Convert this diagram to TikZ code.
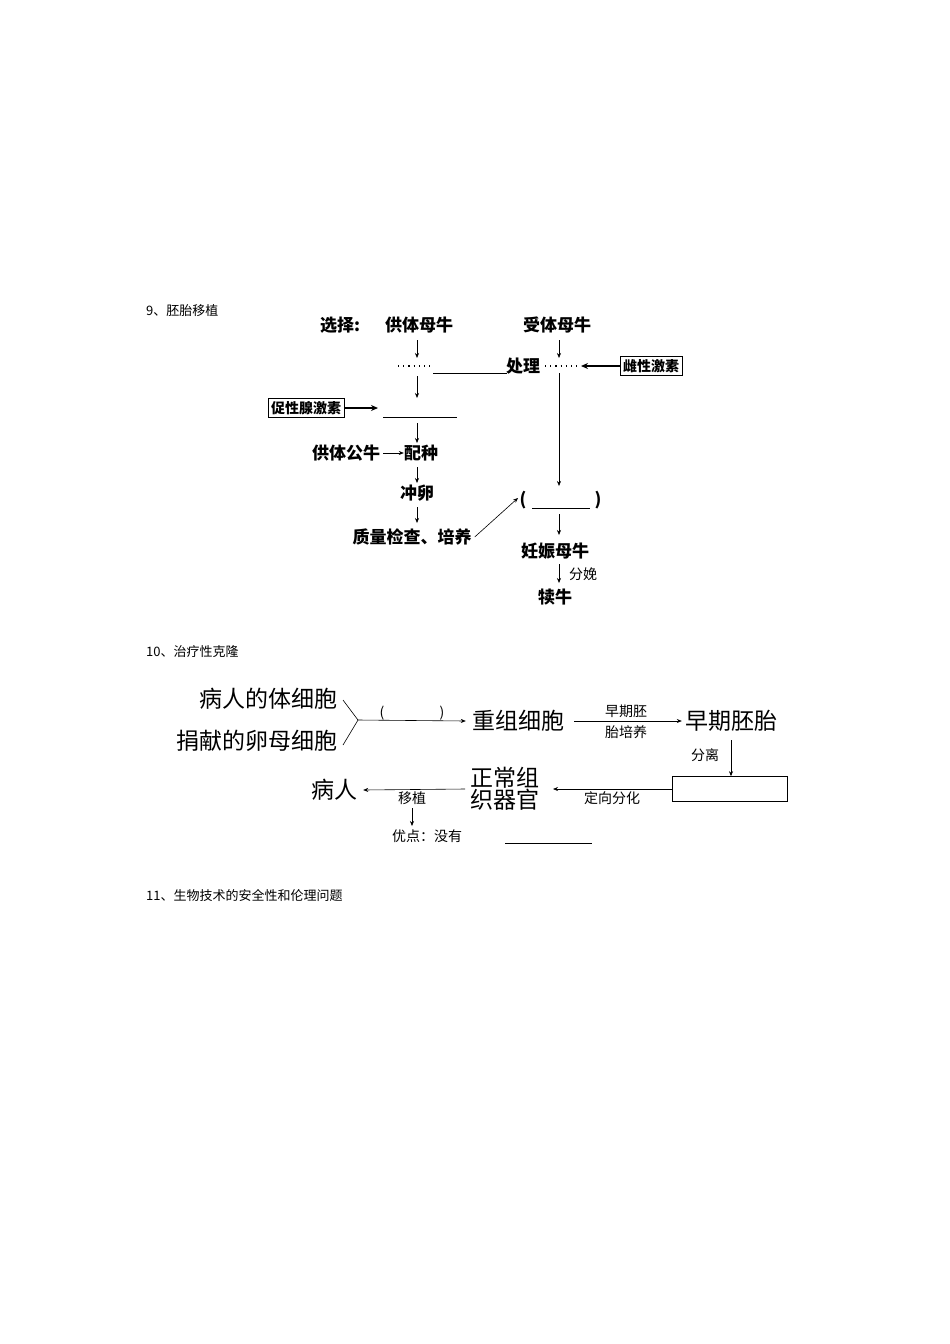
\documentclass[tikz,border=0pt]{standalone}
\usepackage{fontspec}
\setmainfont{Liberation Serif}
\newfontfamily\cjk{Noto Sans CJK SC}
\usetikzlibrary{arrows.meta}
\begin{document}
\begin{tikzpicture}[x=1pt,y=-1pt,
  every node/.style={inner sep=0pt,font=\cjk},
  a/.style={font=\cjk\bfseries\fontsize{17}{19}\selectfont},
  b/.style={font=\cjk\fontsize{23}{25}\selectfont},
  s/.style={font=\cjk\fontsize{14}{16}\selectfont},
  ttl/.style={font=\cjk\fontsize{13}{15}\selectfont,anchor=west},
  ar/.style={-{Stealth[length=5pt,width=4pt]},line width=0.6pt},
  tar/.style={-{Stealth[length=7pt,width=6pt]},line width=1.4pt},
  dt/.style={line width=1.2pt,dash pattern=on 1.2pt off 4pt},
  bx/.style={draw,line width=0.6pt,inner sep=3pt,font=\cjk\bfseries\fontsize{14}{16}\selectfont}]
\useasboundingbox (0,0) rectangle (950,1344);
\fill[white] (0,0) rectangle (950,1344);
% titles
\node[ttl] (t9) at (146,311) {9、胚胎移植};
\node[ttl] (t10) at (146,652) {10、治疗性克隆};
\node[ttl] (t11) at (146,895) {11、生物技术的安全性和伦理问题};
% diagram 1
\node[a] (xz) at (340,325) {选择:};
\node[a] (gt) at (419,325) {供体母牛};
\node[a] (st) at (557,325) {受体母牛};
\coordinate (d1a) at (398,366); \coordinate (d1b) at (431,366);
\draw[dt] (d1a) -- (d1b);
\node[a,anchor=west] (cl) at (506,366) {处理};
\coordinate (d2a) at (545,366); \coordinate (d2b) at (579,366);
\draw[dt] (d2a) -- (d2b);
\coordinate (l1a) at (433,373); \coordinate (l1b) at (507,373);
\draw[line width=0.5pt] (l1a) -- (l1b);
\node[bx] (cx) at (651,366) {雌性激素};
\node[bx] (cs) at (306,408) {促性腺激素};
\coordinate (bl) at (383,417); \coordinate (br) at (457,417);
\draw[line width=0.5pt] (bl) -- (br);
\node[a] (gg) at (346,453) {供体公牛};
\node[a] (pz) at (421,453) {配种};
\node[a] (cl2) at (417,493) {冲卵};
\node[a] (zl) at (412,537) {质量检查、培养};
\node[a] (lp) at (523,500) {(};
\node[a] (rp) at (598,500) {)};
\draw[line width=0.5pt] (532,508) -- (590,508);
\node[a] (rs) at (555,551) {妊娠母牛};
\node[s] (fm) at (583,574) {分娩};
\node[a] (dn) at (555,597) {犊牛};
\draw[ar] (417,340) -- (417,358);
\draw[ar] (559,340) -- (559,358);
\draw[tar] (cx.west) -- (581,366);
\draw[ar] (417,376) -- (417,398);
\draw[tar] (cs.east) -- (378,408);
\draw[ar] (417,423) -- (417,443);
\draw[ar] ([xshift=3pt]gg.east) -- (pz.west);
\draw[ar] (417,467) -- (417,483);
\draw[ar] (417,507) -- (417,523);
\draw[ar] ([xshift=3pt]zl.east) -- (518,498);
\draw[ar] (559,373) -- (559,486);
\draw[ar] (559,514) -- (559,535);
\draw[ar] (559,564) -- (559,583);
% diagram 2
\node[b,anchor=east] (br1) at (338,699) {病人的体细胞};
\node[b,anchor=east] (br2) at (338,741) {捐献的卵母细胞};
\coordinate (yv) at (358,720);
\draw[line width=0.6pt] (343,700) -- (yv) -- (343,745);
\node[b] (cz) at (518,721) {重组细胞};
\draw[ar] (yv) -- ([xshift=-6pt]cz.west);
\node[s] (p1) at (382,713) {(};
\node[s] (p2) at (442,713) {)};
\node[b] (zp) at (731,721) {早期胚胎};
\draw[ar] ([xshift=10pt]cz.east) -- ([xshift=-3pt]zp.west);
\node[s] (l1) at (626,711) {早期胚};
\node[s] (l2) at (626,732) {胎培养};
\node[draw,line width=0.6pt,minimum width=115pt,minimum height=25pt] (box) at (730,789) {};
\coordinate (zd) at (731,740);
\draw[ar] (zd) -- (zd |- box.north);
\node[s] (fl) at (705,755) {分离};
\node[b] (zc1) at (505,778) {正常组};
\node[b] (zc2) at (505,800) {织器官};
\draw[ar] (box.west) -- (553,789);
\node[s] (dx) at (612,798) {定向分化};
\node[b] (brn) at (334,790) {病人};
\draw[ar] (465,789) -- ([xshift=6pt]brn.east);
\node[s] (yz) at (412,798) {移植};
\draw[ar] (412,808) -- (412,826);
\node[s,anchor=west] (yd) at (392,836) {优点：没有};
\draw[line width=0.5pt] (505,843) -- (592,843);
\end{tikzpicture}
\end{document}
